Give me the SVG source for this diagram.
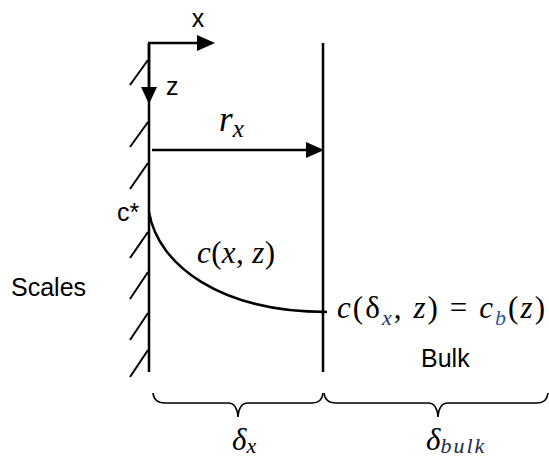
<svg xmlns="http://www.w3.org/2000/svg" width="549" height="458" viewBox="0 0 549 458">
<style>
.ln{stroke:#000;stroke-width:2.5;fill:none}
.th{stroke:#000;stroke-width:2;fill:none}
.br{stroke:#000;stroke-width:1.6;fill:none}
.sans{font-family:"Liberation Sans",Arial,sans-serif;font-size:25px;fill:#000}
.math{font-family:"Liberation Serif","Times New Roman",serif;font-size:31px;fill:#000}
.it{font-style:italic}
.sub{font-size:22px}
</style>
<g id="wall">
<line class="ln" x1="149" y1="43" x2="149" y2="372"/>
<g class="th">
<line x1="148" y1="60" x2="130" y2="85"/>
<line x1="148" y1="122" x2="130" y2="147"/>
<line x1="148" y1="163" x2="130" y2="189"/>
<line x1="148" y1="232" x2="130" y2="258"/>
<line x1="148" y1="272" x2="130" y2="299"/>
<line x1="148" y1="313" x2="130" y2="340"/>
<line x1="148" y1="350" x2="130" y2="377"/>
</g>
</g>
<g id="boundary">
<line class="ln" x1="323" y1="43" x2="323" y2="372"/>
</g>
<g id="connectors">
<line class="ln" x1="148" y1="43" x2="200" y2="43"/>
<polygon points="197,35 215,43 197,51" fill="#000"/>
<line class="ln" x1="149" y1="43" x2="149" y2="90"/>
<polygon points="141,87 157,87 149,104" fill="#000"/>
<line class="ln" x1="152" y1="150" x2="308" y2="150"/>
<polygon points="306,142 324,150 306,158" fill="#000"/>
<path class="ln" d="M149,212 C158,265 220,312 327,312"/>
</g>
<g id="braces">
<path class="br" d="M153,393 Q154,403 165,403 L228,403 Q237,403 238,417 Q239,403 248,403 L312,403 Q322,403 323,393"/>
<path class="br" d="M324,393 Q325,403 336,403 L428,403 Q437,403 438,417 Q439,403 448,403 L537,403 Q547,403 548,393"/>
</g>
<g id="labels">
<text class="sans" x="198" y="27" text-anchor="middle">x</text>
<text class="sans" x="166" y="95">z</text>
<text class="sans" x="117" y="221">c*</text>
<text class="sans" x="11" y="296">Scales</text>
<text class="sans" x="421" y="367">Bulk</text>
<text class="math" x="219" y="131" style="font-size:35px"><tspan class="it">r</tspan><tspan class="it" style="font-size:25px" dy="6">x</tspan></text>
<text class="math" x="197" y="263" textLength="78" lengthAdjust="spacing"><tspan class="it">c</tspan>(<tspan class="it">x</tspan>, <tspan class="it">z</tspan>)</text>
<text class="math" x="337" y="318" textLength="208" lengthAdjust="spacing"><tspan class="it">c</tspan>(δ<tspan class="it sub" dy="7" fill="#203864">x</tspan><tspan dy="-7">, </tspan><tspan class="it">z</tspan>) = <tspan class="it">c</tspan><tspan class="it sub" dy="7" fill="#2E5496">b</tspan><tspan dy="-7">(</tspan><tspan class="it">z</tspan>)</text>
<text class="math" x="232" y="450"><tspan class="it">δ</tspan><tspan class="it sub" dy="3">x</tspan></text>
<text class="math" x="426" y="450"><tspan class="it">δ</tspan><tspan class="it sub" dy="3" fill="#1F2A44" letter-spacing="2">bulk</tspan></text>
</g>
</svg>
